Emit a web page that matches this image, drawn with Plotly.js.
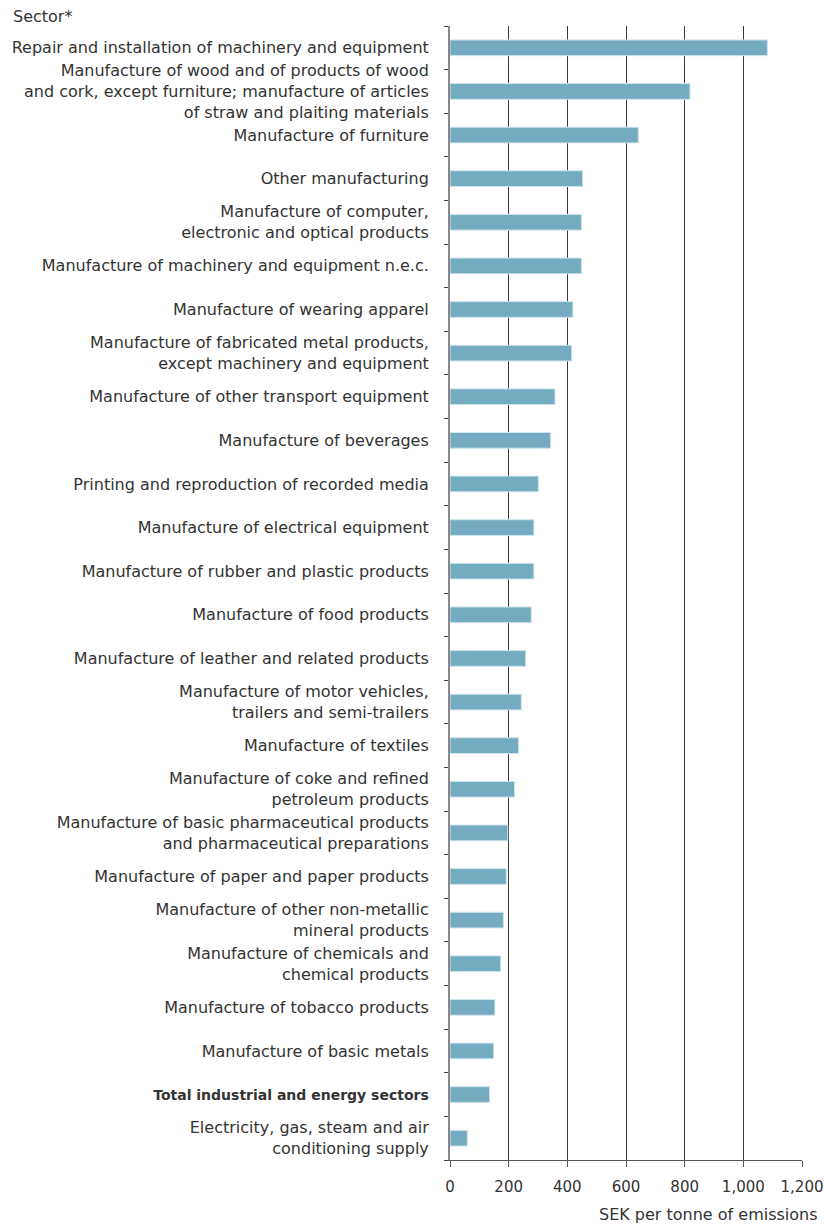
<!DOCTYPE html>
<html><head><meta charset="utf-8">
<script src="https://cdn.plot.ly/plotly-3.0.1.min.js"></script>
<style>body{margin:0;background:#fff}#chart{width:824px;height:1225px}</style>
</head><body><div id="chart"></div>
<script>
const sectors = [
  "Repair and installation of machinery and equipment",
  "Manufacture of wood and of products of wood<br>and cork, except furniture; manufacture of articles<br>of straw and plaiting materials",
  "Manufacture of furniture",
  "Other manufacturing",
  "Manufacture of computer,<br>electronic and optical products",
  "Manufacture of machinery and equipment n.e.c.",
  "Manufacture of wearing apparel",
  "Manufacture of fabricated metal products,<br>except machinery and equipment",
  "Manufacture of other transport equipment",
  "Manufacture of beverages",
  "Printing and reproduction of recorded media",
  "Manufacture of electrical equipment",
  "Manufacture of rubber and plastic products",
  "Manufacture of food products",
  "Manufacture of leather and related products",
  "Manufacture of motor vehicles,<br>trailers and semi-trailers",
  "Manufacture of textiles",
  "Manufacture of coke and refined<br>petroleum products",
  "Manufacture of basic pharmaceutical products<br>and pharmaceutical preparations",
  "Manufacture of paper and paper products",
  "Manufacture of other non-metallic<br>mineral products",
  "Manufacture of chemicals and<br>chemical products",
  "Manufacture of tobacco products",
  "Manufacture of basic metals",
  "Total industrial and energy sectors",
  "Electricity, gas, steam and air<br>conditioning supply"
];
const sekPerTonne = [1082, 818, 642, 452, 448, 448, 419, 415, 358, 343, 301, 286, 286, 277, 258, 243, 234, 220, 197, 192, 182, 173, 153, 149, 135, 59];
const totalSector = "Total industrial and energy sectors";
const xTickVals = [0, 200, 400, 600, 800, 1000, 1200];
const xTickText = ["0", "200", "400", "600", "800", "1,000", "1,200"];

const FONT = "'DejaVu Sans', sans-serif";
const TXT = "#333333";
const FS = 16;

const yTickText = sectors.map(s => s === totalSector
  ? '<span style="font-weight:bold;font-size:14px">' + s + '</span>' : s);

const trace = {
  type: "bar",
  orientation: "h",
  y: sectors,
  x: sekPerTonne,
  width: 0.36,
  marker: {color: "#74abc1", line: {color: "#cfe4ec", width: 1}},
  hoverinfo: "x+y"
};

const layout = {
  width: 824, height: 1225,
  margin: {l: 450, r: 22, t: 26, b: 65},
  paper_bgcolor: "#fff", plot_bgcolor: "#fff",
  font: {family: FONT, size: FS, color: TXT},
  showlegend: false,
  xaxis: {
    range: [0, 1200],
    tickvals: xTickVals, ticktext: xTickText,
    showgrid: true, gridcolor: "#3a3a3a", gridwidth: 1,
    zeroline: false,
    showline: true, linecolor: "#555", linewidth: 1,
    ticks: "outside", ticklen: 6, tickcolor: "#555",
    ticklabelstandoff: 7,
    tickfont: {family: FONT, size: 15, color: TXT},
    fixedrange: true
  },
  yaxis: {
    type: "category",
    autorange: "reversed",
    tickvals: sectors, ticktext: yTickText,
    showgrid: false, zeroline: false,
    showline: true, linecolor: "#888", linewidth: 2,
    ticks: "outside", ticklen: 4, tickcolor: "#444",
    tickson: "boundaries",
    ticklabelstandoff: 16,
    tickfont: {family: FONT, size: FS, color: TXT},
    fixedrange: true
  },
  annotations: [
    {text: "Sector*", xref: "paper", yref: "paper", x: -1.247, y: 1.008,
     xanchor: "left", yanchor: "middle", showarrow: false,
     font: {family: FONT, size: FS, color: TXT}},
    {text: "SEK per tonne of emissions", xref: "paper", yref: "paper", x: 1.05, y: -0.048,
     xanchor: "right", yanchor: "middle", showarrow: false,
     font: {family: FONT, size: FS, color: TXT}}
  ]
};

Plotly.newPlot("chart", [trace], layout, {displayModeBar: false, staticPlot: true});
</script>
</body></html>
